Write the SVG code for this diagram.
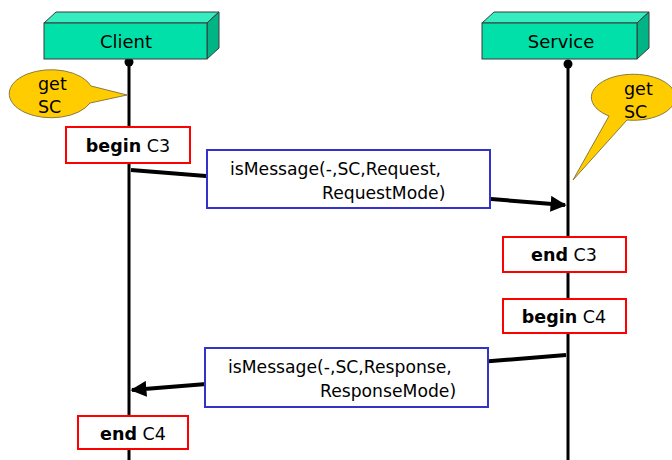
<svg xmlns="http://www.w3.org/2000/svg" width="672" height="460" viewBox="0 0 672 460">
  <defs>
    <marker id="arrow" viewBox="0 0 10 10" refX="9" refY="5" markerWidth="4" markerHeight="4" orient="auto" markerUnits="strokeWidth">
      <path d="M0,0 L10,5 L0,10 z" fill="#000"/>
    </marker>
    <style>
      text { font-family: "DejaVu Sans", Verdana, sans-serif; fill: #000; }
      .front { fill: #00E0A8; stroke: #3a3a3a; stroke-width: 1; }
      .top { fill: #35EDBE; stroke: #3a3a3a; stroke-width: 1; }
      .side { fill: #00B585; stroke: #3a3a3a; stroke-width: 1; }
      .life { stroke: #000; stroke-width: 3; fill: none; }
      .callout { fill: #FFCC00; stroke: #8a7a40; stroke-width: 1; }
      .state { fill: #fff; stroke: #FF0000; stroke-width: 2; }
      .msg { fill: #fff; stroke: #3333CC; stroke-width: 2; }
      .conn { stroke: #000; stroke-width: 4; fill: none; }
      .obj { font-size: 18px; text-anchor: middle; }
      .lbl { font-size: 17.5px; text-anchor: middle; }
      .mtxt { font-size: 17.2px; }
      .ctxt { font-size: 17.5px; }
    </style>
  </defs>

  <!-- lifelines -->
  <g id="lifelines">
    <line class="life" x1="129" y1="62" x2="129" y2="460"/>
    <line class="life" x1="568" y1="64" x2="568" y2="460"/>
    <circle cx="129" cy="62" r="4.5" fill="#000"/>
    <circle cx="568" cy="64" r="4.5" fill="#000"/>
  </g>

  <!-- connectors -->
  <g id="connectors">
    <line class="conn" x1="131" y1="170" x2="565" y2="205" marker-end="url(#arrow)"/>
    <line class="conn" x1="566" y1="355" x2="132" y2="390" marker-end="url(#arrow)"/>
  </g>

  <!-- Client object -->
  <g id="client">
    <polygon class="top" points="44,23 56,12 219,12 207,23"/>
    <polygon class="side" points="207,23 219,12 219,48 207,59"/>
    <rect class="front" x="44" y="23" width="163" height="36"/>
    <text class="obj" x="126" y="48">Client</text>
  </g>

  <!-- Service object -->
  <g id="service">
    <polygon class="top" points="482,23 494,12 649,12 637,23"/>
    <polygon class="side" points="637,23 649,12 649,48 637,59"/>
    <rect class="front" x="482" y="23" width="155" height="36"/>
    <text class="obj" x="561" y="48">Service</text>
  </g>

  <!-- callout on Client -->
  <g id="client-getsc">
    <path class="callout" d="M91,86 L127,95 L90,103 A42,24 0 1 1 91,86 z"/>
    <text class="ctxt" x="38" y="90">get</text>
    <text class="ctxt" x="38" y="113">SC</text>
  </g>

  <!-- callout on Service -->
  <g id="service-getsc">
    <path class="callout" d="M627,120 L573,180 L609,116 A42,23 0 1 1 627,120 z"/>
    <text class="ctxt" x="624" y="95">get</text>
    <text class="ctxt" x="624" y="118">SC</text>
  </g>

  <!-- state boxes -->
  <g id="begin-c3">
    <rect class="state" x="66" y="127" width="124" height="36"/>
    <text class="lbl" x="128" y="152"><tspan font-weight="bold">begin</tspan> C3</text>
  </g>
  <g id="end-c3">
    <rect class="state" x="503" y="237" width="123" height="35"/>
    <text class="lbl" x="564" y="261"><tspan font-weight="bold">end</tspan> C3</text>
  </g>
  <g id="begin-c4">
    <rect class="state" x="503" y="299" width="123" height="34"/>
    <text class="lbl" x="564" y="323"><tspan font-weight="bold">begin</tspan> C4</text>
  </g>
  <g id="end-c4">
    <rect class="state" x="78" y="416" width="110" height="33"/>
    <text class="lbl" x="133" y="440"><tspan font-weight="bold">end</tspan> C4</text>
  </g>

  <!-- message labels -->
  <g id="msg-request">
    <rect class="msg" x="207" y="150" width="283" height="58"/>
    <text class="mtxt" x="230" y="175">isMessage(-,SC,Request,</text>
    <text class="mtxt" x="322" y="199">RequestMode)</text>
  </g>
  <g id="msg-response">
    <rect class="msg" x="205" y="348" width="283" height="59"/>
    <text class="mtxt" x="228" y="373">isMessage(-,SC,Response,</text>
    <text class="mtxt" x="320" y="397">ResponseMode)</text>
  </g>
</svg>
